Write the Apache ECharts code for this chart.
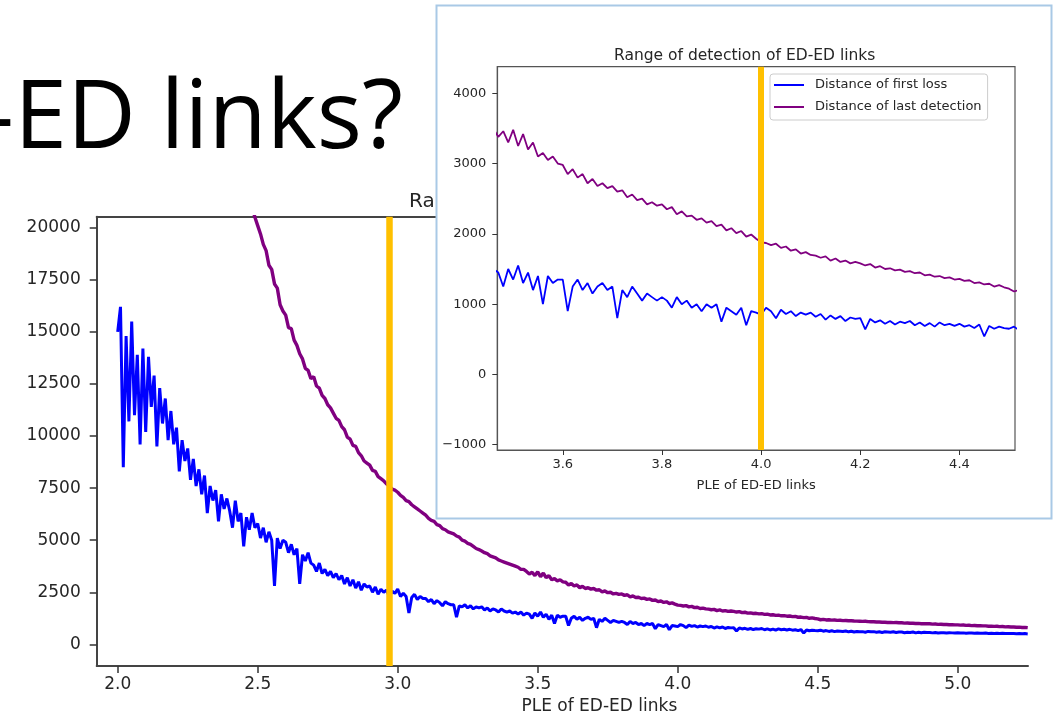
<!DOCTYPE html>
<html>
<head>
<meta charset="utf-8">
<script src="https://cdn.jsdelivr.net/npm/echarts@6/dist/echarts.min.js"></script>
<style>html,body{margin:0;padding:0;background:#fff}#main{width:1054px;height:720px}</style>
</head>
<body>
<div id="main"></div>
<script>
// values, one per 0.01 of PLE starting at 2.00
var firstLoss = [
  15000, 16200, 8500, 14800, 10700, 15500, 11000, 13900, 9600, 14200,
  10200, 13800, 11400, 12900, 9500, 12300, 10600, 11800, 9800, 11200,
  9600, 10400, 8300, 9800, 8800, 9400, 7900, 8900, 7600, 8400,
  7200, 8100, 6300, 7600, 6900, 7400, 5900, 7200, 6500, 7000,
  6400, 5600, 6900, 5900, 6300, 4700, 6100, 5500, 6300, 5600,
  5800, 5100, 5600, 4900, 5400, 5000, 2800, 5100, 4600, 5000,
  4900, 4400, 4800, 4300, 4600, 2900, 4300, 4000, 4400, 3900,
  3800, 3500, 3900, 3400, 3600, 3300, 3500, 3200, 3400, 3100,
  3300, 2900, 3200, 2800, 3100, 2700, 3000, 2600, 2900, 2750,
  2800, 2500, 2750, 2400, 2650, 2500, 2600, 2300, 2550, 2450,
  2650, 2300, 2450, 2300, 1500, 2250, 2400, 2150, 2300, 2200,
  2200, 2050, 2150, 1950, 2100, 2000, 1850, 2050, 1950, 1900,
  1900, 1300, 1850, 1800, 1900, 1750, 1850, 1700, 1800, 1750,
  1800, 1650, 1750, 1600, 1700, 1650, 1550, 1700, 1600, 1550,
  1600, 1500, 1550, 1450, 1550, 1400, 1500, 1450, 1250, 1500,
  1350, 1550, 1300, 1450, 1200, 1400, 1000, 1400, 1300, 1350,
  1350, 900, 1250, 1350, 1200, 1300, 1150, 1250, 1300, 1200,
  1250, 800, 1200, 1100, 1250, 1150, 1050, 1150, 1100, 1050,
  1100, 1050, 950, 1100, 1000, 1050, 950, 1000, 900, 1000,
  950, 1000, 750, 950, 900, 850, 950, 700, 900, 880,
  850, 950, 900, 800, 920, 860, 900, 830, 880, 850,
  880, 820, 860, 780, 840, 790, 830, 760, 810, 790,
  800, 640, 790, 740, 770, 720, 760, 710, 750, 730,
  760, 700, 740, 690, 730, 680, 740, 700, 720, 690,
  720, 680, 700, 660, 710, 540, 690, 650, 680, 660,
  650, 680, 630, 660, 620, 650, 610, 640, 630, 620,
  640, 600, 630, 590, 620, 600, 610, 580, 620, 600,
  610, 580, 600, 570, 600, 590, 580, 600, 570, 590,
  590, 560, 580, 570, 590, 550, 580, 560, 575, 565,
  570, 550, 565, 545, 560, 555, 540, 560, 550, 545,
  555, 540, 550, 530, 545, 540, 530, 545, 535, 530,
  540, 525, 535, 520, 530, 515, 530, 520, 525, 515,
  520, 510, 525, 505, 515, 500
];
var lastDetection = [
  null, null, null, null, null, null, null, null, null, null,
  null, null, null, null, null, null, null, null, null, null,
  null, null, null, null, null, null, null, null, null, null,
  null, null, null, null, null, null, null, null, null, null,
  null, null, null, null, null, null, null, 21500, 21000, 20500,
  20100, 19700, 19200, 18900, 18200, 18000, 17300, 17100, 16300, 16000,
  15800, 15200, 15150, 14600, 14350, 13950, 13700, 13250, 13150, 12750,
  12850, 12400, 12300, 11950, 11800, 11500, 11350, 11100, 10850, 10750,
  10450, 10300, 9950, 9850, 9550, 9500, 9200, 9050, 8800, 8700,
  8600, 8350, 8300, 8050, 7950, 7850, 7700, 7600, 7450, 7400,
  7300, 7150, 7050, 6900, 6850, 6700, 6600, 6500, 6400, 6300,
  6200, 6050, 5950, 5900, 5750, 5700, 5550, 5500, 5400, 5350,
  5300, 5200, 5150, 5000, 4950, 4850, 4800, 4700, 4600, 4550,
  4480, 4400, 4350, 4250, 4200, 4150, 4050, 4000, 3950, 3900,
  3850, 3800, 3750, 3700, 3600, 3600, 3500, 3380, 3460, 3300,
  3480, 3250, 3420, 3200, 3300, 3100, 3150, 3050, 3100, 3000,
  2980, 2850, 2920, 2800, 2850, 2720, 2780, 2680, 2720, 2650,
  2680, 2600, 2620, 2520, 2560, 2480, 2500, 2420, 2450, 2400,
  2420, 2350, 2380, 2280, 2320, 2250, 2260, 2200, 2220, 2160,
  2180, 2110, 2130, 2050, 2080, 2010, 2040, 1960, 1990, 1930,
  1880, 1870, 1840, 1860, 1800, 1820, 1760, 1780, 1720, 1740,
  1700, 1690, 1660, 1680, 1620, 1650, 1600, 1620, 1580, 1600,
  1580, 1550, 1570, 1520, 1540, 1500, 1510, 1480, 1490, 1460,
  1470, 1440, 1450, 1410, 1420, 1390, 1400, 1370, 1380, 1350,
  1360, 1330, 1340, 1300, 1310, 1280, 1290, 1250, 1270, 1240,
  1220, 1180, 1200, 1170, 1180, 1160, 1170, 1150, 1155, 1140,
  1145, 1130, 1135, 1120, 1115, 1110, 1100, 1105, 1090, 1085,
  1085, 1070, 1075, 1060, 1060, 1050, 1055, 1040, 1045, 1035,
  1035, 1020, 1025, 1010, 1010, 1000, 1005, 990, 995, 985,
  985, 970, 975, 960, 965, 950, 955, 940, 945, 935,
  935, 920, 925, 910, 915, 900, 905, 890, 895, 885,
  885, 870, 875, 860, 865, 850, 855, 840, 845, 835,
  835, 820, 825, 810, 815, 800
];
var ple = firstLoss.map(function (_, i) { return Math.round(200 + i) / 100; });

var mainXTicks = [2.0, 2.5, 3.0, 3.5, 4.0, 4.5, 5.0];
var mainYTicks = [0, 2500, 5000, 7500, 10000, 12500, 15000, 17500, 20000];
var insetXTicks = [3.6, 3.8, 4.0, 4.2, 4.4];
var insetYTicks = [-1000, 0, 1000, 2000, 3000, 4000];
var mainMarker = 2.97;
var insetMarker = 4.0;

function pairs(vals) {
  return vals.map(function (v, i) { return [ple[i], v]; });
}

var myChart = echarts.init(document.getElementById('main'));
var font = 'DejaVu Sans';
var txt = '#262626';
var plain = function (v) { return String(v).replace('-', '\u2212'); };
var oneDec = function (v) { return v.toFixed(1); };

var option = {
  animation: false,
  backgroundColor: '#fff',
  title: [
    { text: 'Range of detection of ED-ED links', left: 404, top: 187, z: 1,
      textStyle: { fontFamily: font, fontSize: 20, fontWeight: 'normal', color: txt } },
    { text: 'Range of detection of ED-ED links', left: 609, top: 43, z: 10,
      textStyle: { fontFamily: font, fontSize: 15.5, fontWeight: 'normal', color: txt } }
  ],
  graphic: [
    { type: 'text', x: 403, y: 121, z: 1,
      style: { text: '-ED links?', fontFamily: 'Open Sans', fontSize: 95, fill: '#000',
        align: 'right', verticalAlign: 'middle' } },
    { type: 'rect', z: 5,
      shape: { x: 436.5, y: 5.5, width: 615, height: 513 },
      style: { fill: '#fff', stroke: '#a9c9e6', lineWidth: 2 } }
  ],
  legend: {
    data: ['Distance of first loss', 'Distance of last detection'],
    orient: 'vertical', left: 770, top: 74, z: 10,
    icon: 'rect', itemWidth: 30, itemHeight: 2, itemGap: 6,
    padding: [3, 6, 5, 4],
    borderColor: '#cccccc', borderWidth: 1, borderRadius: 3, backgroundColor: '#fff',
    textStyle: { fontFamily: font, fontSize: 13, color: txt, lineHeight: 16, padding: [0, 0, 0, 6] }
  },
  grid: [
    { left: 96.7, top: 216.7, right: 26, bottom: 53.3 },
    { left: 497.3, top: 66.7, right: 39, bottom: 270, show: true, z: 6,
      backgroundColor: '#fff', borderColor: '#555', borderWidth: 1.2 }
  ],
  xAxis: [
    { type: 'value', gridIndex: 0, min: 1.925, max: 5.251,
      name: 'PLE of ED-ED links', nameLocation: 'middle', nameGap: 32,
      nameTextStyle: { fontFamily: font, fontSize: 17, color: txt, padding: [0, 0, 0, 74] },
      axisLine: { onZero: false, lineStyle: { color: '#444', width: 2 } },
      axisTick: { customValues: mainXTicks, length: 7, lineStyle: { color: '#333', width: 1.5 } },
      axisLabel: { customValues: mainXTicks, margin: 10, fontFamily: font, fontSize: 17, color: txt,
        formatter: oneDec },
      splitLine: { show: false } },
    { type: 'value', gridIndex: 1, min: 3.468, max: 4.512, z: 7,
      name: 'PLE of ED-ED links', nameLocation: 'middle', nameGap: 29,
      nameTextStyle: { fontFamily: font, fontSize: 13, color: txt },
      axisLine: { onZero: false, lineStyle: { color: '#555', width: 1.2 } },
      axisTick: { customValues: insetXTicks, length: 5, lineStyle: { color: '#333' } },
      axisLabel: { customValues: insetXTicks, margin: 8, fontFamily: font, fontSize: 13, color: txt,
        formatter: oneDec },
      splitLine: { show: false } },
    { type: 'value', gridIndex: 0, position: 'top', min: 1.925, max: 5.251,
      axisLine: { onZero: false, lineStyle: { color: '#444', width: 2 } },
      axisTick: { show: false }, axisLabel: { show: false }, splitLine: { show: false } }
  ],
  yAxis: [
    { type: 'value', gridIndex: 0, min: -1040, max: 20527,
      axisLine: { show: true, onZero: false, lineStyle: { color: '#444', width: 2 } },
      axisTick: { show: true, customValues: mainYTicks, length: 7, lineStyle: { color: '#333', width: 1.5 } },
      axisLabel: { customValues: mainYTicks, margin: 16, fontFamily: font, fontSize: 17, color: txt,
        formatter: plain },
      splitLine: { show: false } },
    { type: 'value', gridIndex: 1, min: -1075, max: 4378, z: 7,
      axisLine: { show: true, onZero: false, lineStyle: { color: '#555', width: 1.2 } },
      axisTick: { show: true, customValues: insetYTicks, length: 5, lineStyle: { color: '#333' } },
      axisLabel: { customValues: insetYTicks, margin: 11, fontFamily: font, fontSize: 13, color: txt,
        formatter: plain },
      splitLine: { show: false } }
  ],
  series: [
    { name: 'Distance of first loss', type: 'line', xAxisIndex: 0, yAxisIndex: 0,
      data: pairs(firstLoss), showSymbol: false, symbol: 'none', z: 2,
      lineStyle: { color: '#0000ff', width: 3 }, itemStyle: { color: '#0000ff' },
      markLine: { silent: true, symbol: 'none', z: 4, label: { show: false },
        lineStyle: { color: '#ffc000', width: 6.5, type: 'solid' },
        data: [{ xAxis: mainMarker }] } },
    { name: 'Distance of last detection', type: 'line', xAxisIndex: 0, yAxisIndex: 0,
      data: pairs(lastDetection), showSymbol: false, symbol: 'none', z: 2,
      lineStyle: { color: '#800080', width: 3.4 }, itemStyle: { color: '#800080' } },
    { name: 'Distance of first loss', type: 'line', xAxisIndex: 1, yAxisIndex: 1,
      data: pairs(firstLoss), showSymbol: false, symbol: 'none', z: 8,
      lineStyle: { color: '#0000ff', width: 1.8 }, itemStyle: { color: '#0000ff' },
      markLine: { silent: true, symbol: 'none', z: 12, label: { show: false },
        lineStyle: { color: '#ffc000', width: 6, type: 'solid' },
        data: [{ xAxis: insetMarker }] } },
    { name: 'Distance of last detection', type: 'line', xAxisIndex: 1, yAxisIndex: 1,
      data: pairs(lastDetection), showSymbol: false, symbol: 'none', z: 8,
      lineStyle: { color: '#800080', width: 1.8 }, itemStyle: { color: '#800080' } }
  ]
};
myChart.setOption(option);
</script>
</body>
</html>
